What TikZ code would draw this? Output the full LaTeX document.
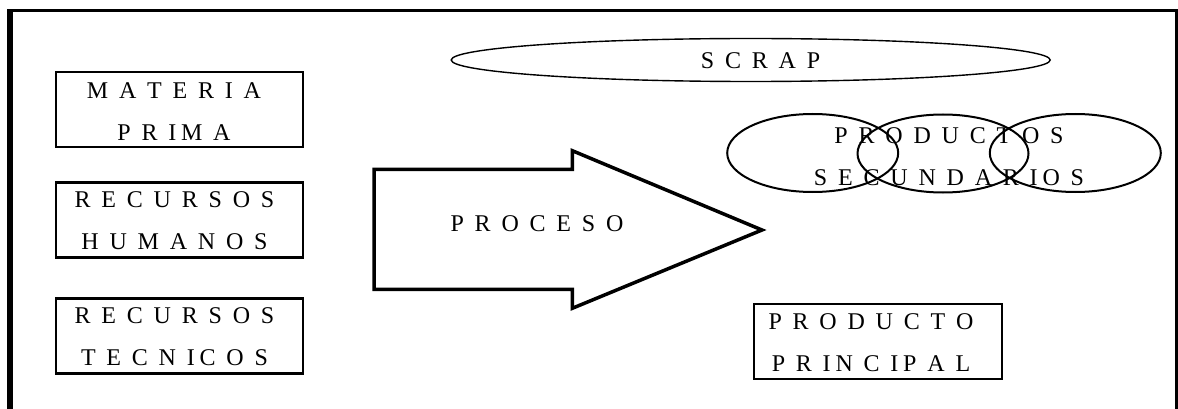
\documentclass[tikz,border=0pt]{standalone}
\usepackage{fontspec}
\setmainfont{Liberation Serif}
\newfontfamily\spacedserif[LetterSpace=20]{Liberation Serif}
\usetikzlibrary{shapes.geometric}
\tikzset{
  caps/.style={font=\spacedserif\fontsize{24}{42}\selectfont, align=center, inner sep=0pt},
  itembox/.style={draw, line width=2.2pt, minimum width=247pt, minimum height=75pt, inner sep=0pt},
  outflow/.style={draw, ellipse, line width=2pt, minimum width=171pt, minimum height=78pt, inner sep=0pt},
}
\begin{document}
\begin{tikzpicture}[x=1pt, y=-1pt]
  \useasboundingbox (0,0) rectangle (1178,409);

  % open frame (no bottom edge)
  \draw[line width=6pt] (10,409) -- (10,10.5);
  \draw[line width=3pt] (7,10.5) -- (1178,10.5);
  \draw[line width=4pt] (1176.5,9) -- (1176.5,409);

  % inputs
  \node[itembox] (materia)  at (179.5,109.5) {};
  \node[itembox] (humanos)  at (179.5,220)   {};
  \node[itembox] (tecnicos) at (179.5,336)   {};
  \node[caps] (materia-t)  at (174,111.5) {M A T E R I A\\P R IM A};
  \node[caps] (humanos-t)  at (174.5,221) {R E C U R S O S\\H U M A N O S};
  \node[caps] (tecnicos-t) at (174.5,336.5) {R E C U R S O S\\T E C N IC O S};

  % process arrow
  \coordinate (a1) at (374,169.3);
  \coordinate (a2) at (572.3,169.3);
  \coordinate (a3) at (572.3,150.7);
  \coordinate (tip) at (762,230);
  \coordinate (a5) at (572.3,308.3);
  \coordinate (a6) at (572.3,289.3);
  \coordinate (a7) at (374,289.3);
  \draw[line width=3.5pt, line join=miter] (a1) -- (a2) -- (a3) -- (tip) -- (a5) -- (a6) -- (a7) -- cycle;
  \node[caps] (proceso) at (537,223.4) {P R O C E S O};

  % scrap
  \node[draw, ellipse, line width=1.4pt, minimum width=599pt, minimum height=43pt, inner sep=0pt] (scrap) at (750.7,60) {};
  \node[caps] (scraptxt) at (760.5,60.5) {S C R A P};

  % secondary products
  \node[outflow] (sec1) at (812.7,153) {};
  \node[outflow] (sec2) at (943,153.5) {};
  \node[outflow] (sec3) at (1075.3,153) {};
  \node[caps] (sectxt) at (949,156.5) {P R O D U C T O S\\S E C U N D A R IO S};

  % main product
  \node[itembox, minimum width=248pt] (principal) at (878,341.5) {};
  \node[caps] (principal-t) at (871,342.5) {P R O D U C T O\\P R IN C IP A L};
\end{tikzpicture}
\end{document}
